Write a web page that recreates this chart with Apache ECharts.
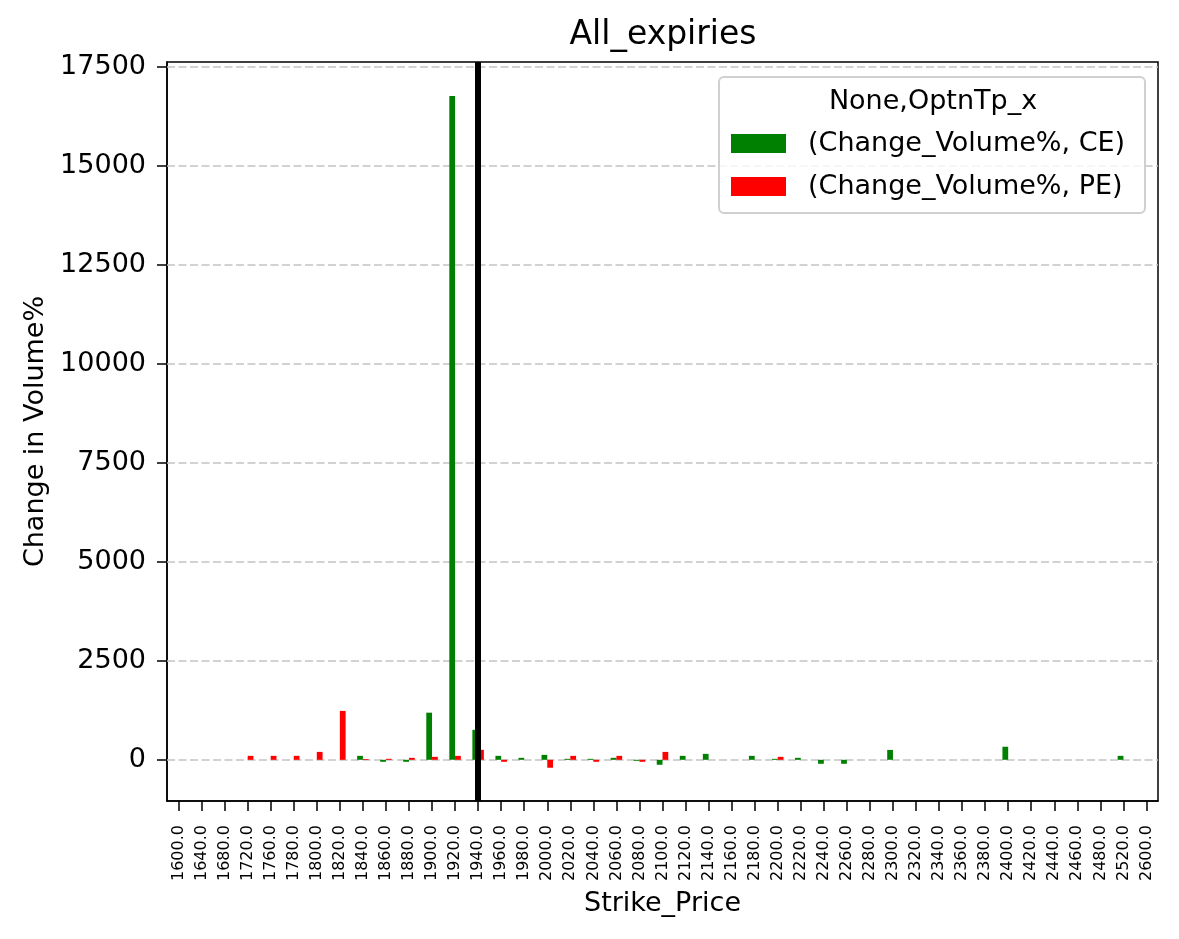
<!DOCTYPE html>
<html>
<head>
<meta charset="utf-8">
<script src="https://cdn.jsdelivr.net/npm/echarts@6/dist/echarts.min.js"></script>
<style>
html,body{margin:0;padding:0;background:#fff;}
#main{width:1179px;height:939px;}
</style>
</head>
<body>
<div id="main"></div>
<script>
const strikes = ['1600.0','1640.0','1680.0','1720.0','1760.0','1780.0','1800.0','1820.0','1840.0','1860.0','1880.0','1900.0','1920.0','1940.0','1960.0','1980.0','2000.0','2020.0','2040.0','2060.0','2080.0','2100.0','2120.0','2140.0','2160.0','2180.0','2200.0','2220.0','2240.0','2260.0','2280.0','2300.0','2320.0','2340.0','2360.0','2380.0','2400.0','2420.0','2440.0','2460.0','2480.0','2520.0','2600.0'];
const ceValues = [null,null,null,null,null,null,null,null,100,-50,-50,1190,16760,757,100,50,125,25,25,50,-25,-125,100,150,null,100,25,50,-100,-100,null,250,null,null,null,null,330,null,null,null,null,100,null];
const peValues = [null,null,null,100,100,100,200,1235,20,25,50,75,100,252,-50,null,-200,100,-50,100,-50,200,null,null,null,null,75,null,null,null,null,null,null,null,null,null,null,null,null,null,null,null,null];
const yTicks = [0,2500,5000,7500,10000,12500,15000,17500];
const spotStrike = '1940.0';
const ceName = '(Change_Volume%, CE)';
const peName = '(Change_Volume%, PE)';
const legendTitle = 'None,OptnTp_x';

const FONT = 'DejaVu Sans';
const chart = echarts.init(document.getElementById('main'), null, {renderer:'canvas'});
chart.setOption({
  animation:false,
  backgroundColor:'#ffffff',
  textStyle:{fontFamily:FONT,color:'#000'},
  grid:{left:167,right:21,top:62,bottom:138,show:true,borderColor:'#000',borderWidth:1.5,backgroundColor:'transparent',outerBoundsMode:'none',containLabel:false},
  legend:{
    orient:'vertical',left:731,top:130,padding:0,
    itemWidth:55,itemHeight:19,itemGap:16,icon:'rect',
    textStyle:{fontSize:27,fontFamily:FONT,color:'#000',padding:[0,0,0,17]},
    data:[ceName,peName],z:10
  },
  graphic:[
    {type:'text',x:663,y:35,style:{text:'All_expiries',fontSize:33,fontFamily:FONT,fill:'#000',align:'center',verticalAlign:'middle'},z:10},
    {type:'rect',shape:{x:719,y:77,width:426,height:136,r:5},style:{fill:'rgba(255,255,255,0.8)',stroke:'#d0d0d0',lineWidth:2},z:8},
    {type:'text',x:933,y:102,style:{text:legendTitle,fontSize:27,fontFamily:FONT,fill:'#000',align:'center',verticalAlign:'middle'},z:10}
  ],
  xAxis:{
    type:'category',data:strikes,
    name:'Strike_Price',nameLocation:'middle',nameGap:89,
    nameTextStyle:{fontSize:27,fontFamily:FONT,color:'#000'},
    axisLine:{show:true,onZero:false,lineStyle:{color:'#000',width:1.5}},
    axisTick:{show:true,alignWithLabel:true,interval:0,length:10,lineStyle:{color:'#000',width:1.5}},
    axisLabel:{show:true,rotate:90,interval:0,fontSize:16,fontFamily:FONT,color:'#000',margin:24},
    splitLine:{show:false}
  },
  yAxis:{
    type:'value',min:-1040,max:17620,
    name:'Change in Volume%',nameLocation:'middle',nameGap:114,
    nameTextStyle:{fontSize:27,fontFamily:FONT,color:'#000'},
    axisLine:{show:true,lineStyle:{color:'#000',width:1.5}},
    axisTick:{show:true,length:10,customValues:yTicks,lineStyle:{color:'#000',width:1.5}},
    axisLabel:{customValues:yTicks,formatter:v=>String(v),fontSize:27,fontFamily:FONT,color:'#000',margin:21},
    splitLine:{show:false}
  },
  series:[
    {
      name:ceName,type:'bar',data:ceValues,barWidth:'25%',barGap:'0%',
      itemStyle:{color:'#008000'},z:2,
      markLine:{
        silent:true,symbol:['none','none'],label:{show:false},z:1,
        lineStyle:{color:'#c4c4c4',type:[8,3.5],width:1.5},
        data:yTicks.map(v=>({yAxis:v}))
      }
    },
    {
      name:peName,type:'bar',data:peValues,barWidth:'25%',barGap:'0%',
      itemStyle:{color:'#ff0000'},z:2
    },
    {
      name:'spot',type:'line',data:[],z:6,
      markLine:{
        silent:true,symbol:['none','none'],label:{show:false},z:6,
        lineStyle:{color:'#000',type:'solid',width:6},
        data:[{xAxis:spotStrike}]
      }
    }
  ]
});
</script>
</body>
</html>
